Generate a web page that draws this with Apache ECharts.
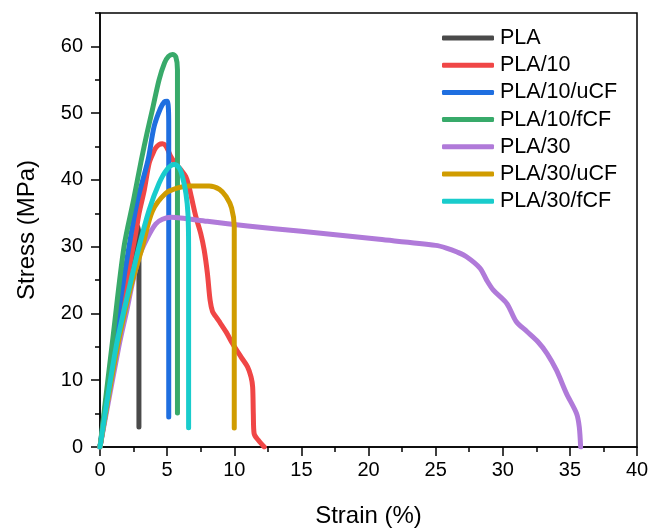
<!DOCTYPE html>
<html><head><meta charset="utf-8">
<script src="https://cdn.jsdelivr.net/npm/echarts@6/dist/echarts.min.js"></script>
<style>html,body{margin:0;padding:0;background:#fff}#c{width:656px;height:528px}</style>
</head><body><div id="c"></div>
<script>
const seriesNames = ['PLA','PLA/10','PLA/10/uCF','PLA/10/fCF','PLA/30','PLA/30/uCF','PLA/30/fCF'];
const colors = ['#4a4a4a','#f04646','#1f6fe0','#38aa6a','#b07ad9','#d09c00','#19cccc'];
const xTicks = [0,5,10,15,20,25,30,35,40];
const yTicks = [0,10,20,30,40,50,60];

const PLA = [[0,0],[1,12],[2,23.5],[2.6,30],[2.85,33],[2.9,31],[2.9,3]];
const PLA10 = [[0,0],[1,13],[2,25],[2.66,32],[2.91,35],[3.3,38.5],[3.66,42.5],[3.95,44],[4.15,44.8],[4.4,45.3],[4.65,45.4],[4.9,45.1],[5.1,44.3],[5.27,43.5],[5.6,42.5],[6.0,41.6],[6.39,40.5],[6.6,39.2],[6.8,37.5],[7.14,34.5],[7.5,32],[7.76,29.5],[8.0,26],[8.2,22],[8.38,20.3],[8.6,19.6],[8.88,18.8],[9.4,17.2],[9.87,15.5],[10.5,13.5],[10.99,12],[11.25,10.5],[11.37,9],[11.42,5],[11.48,2],[11.8,1],[12.24,0]];
const PLA10u = [[0,0],[1,15],[2.16,30],[2.8,37],[3.58,43],[4.03,48],[4.5,50.7],[4.8,51.7],[5.0,51.8],[5.1,50.5],[5.12,48],[5.12,4.5]];
const PLA10f = [[0,0],[1,17],[1.79,30],[2.5,37],[3.08,43],[3.5,47],[3.9,50.5],[4.4,55],[4.8,57.5],[5.1,58.5],[5.4,58.8],[5.65,58.4],[5.77,56.5],[5.77,5.1]];
const PLA30 = [[0,0],[1.4,15],[2,20.5],[2.41,24.5],[2.91,28.5],[3.5,31.2],[4.15,33.4],[4.65,34.1],[5.3,34.4],[6,34.3],[8,33.8],[11,33.1],[15,32.3],[20.8,31.1],[25,30.2],[25.8,29.8],[26.6,29.2],[27.3,28.5],[28.3,26.8],[28.8,25],[29.3,23.5],[30.3,21.5],[31,18.8],[31.8,17.3],[32.6,15.8],[33.3,14],[34,11.5],[34.75,8],[35.5,5],[35.7,3],[35.8,0]];
const PLA30u = [[0,0],[1.3,15],[2.3,24],[3.16,30],[3.9,35.3],[4.9,38],[5.8,38.8],[6.64,39.1],[8.13,39.1],[8.9,38.6],[9.4,37.5],[9.8,35.8],[10.0,33],[10.0,2.85]];
const PLA30f = [[0,0],[1.2,15],[2.2,24],[2.91,30],[3.66,35.5],[4.4,39.5],[5.0,41.6],[5.52,42.3],[5.9,41.8],[6.14,40.5],[6.4,38],[6.55,35],[6.6,30],[6.6,2.9]];
const allData = [PLA, PLA10, PLA10u, PLA10f, PLA30, PLA30u, PLA30f];

const FONT = '"Liberation Sans", Arial, Helvetica, sans-serif';
const chart = echarts.init(document.getElementById('c'), null, {renderer:'canvas'});
chart.setOption({
  animation:false,
  grid:{left:100,right:19,top:13,bottom:81,containLabel:false,outerBoundsMode:'none',show:true,borderColor:'#000',borderWidth:1.5,backgroundColor:'transparent'},
  legend:{
    orient:'vertical', left:437, top:22, itemWidth:52, itemHeight:5, itemGap:5.2, icon:'roundRect',
    data:seriesNames,
    textStyle:{fontFamily:FONT,fontSize:21.5,color:'#000',lineHeight:22,padding:[0,0,0,1]}
  },
  xAxis:{
    type:'value', min:0, max:40, interval:5,
    name:'Strain (%)', nameLocation:'middle', nameGap:57,
    nameTextStyle:{fontFamily:FONT,fontSize:24,color:'#000'},
    axisLine:{show:true,lineStyle:{color:'#000',width:1.5}},
    axisTick:{show:true,length:9,lineStyle:{color:'#000',width:1.5}},
    minorTick:{show:true,splitNumber:2,length:5,lineStyle:{color:'#000',width:1.5}},
    axisLabel:{fontFamily:FONT,fontSize:20,color:'#000',margin:13,customValues:xTicks},
    splitLine:{show:false}
  },
  yAxis:[{
    type:'value', min:0, max:65, interval:5,
    name:'Stress (MPa)', nameLocation:'middle', nameGap:61,
    nameTextStyle:{fontFamily:FONT,fontSize:24,color:'#000'},
    axisLine:{show:true,lineStyle:{color:'#000',width:1.5}},
    axisTick:{show:true,length:5,lineStyle:{color:'#000',width:1.5}},
    axisLabel:{fontFamily:FONT,fontSize:20,color:'#000',margin:17,customValues:yTicks},
    splitLine:{show:false}
  },{
    type:'value', min:0, max:65, position:'left',
    axisLine:{show:false},
    axisTick:{show:true,length:9,customValues:yTicks,lineStyle:{color:'#000',width:1.5}},
    axisLabel:{show:false},
    splitLine:{show:false}
  }],
  series: seriesNames.map((n,i)=>({
    name:n, type:'line', data:allData[i], showSymbol:false, symbol:'none',
    smooth:0.3, sampling:null,
    color:colors[i],
    lineStyle:{width:5,color:colors[i],cap:'round',join:'round'},
    z:2+i
  }))
});
</script></body></html>
